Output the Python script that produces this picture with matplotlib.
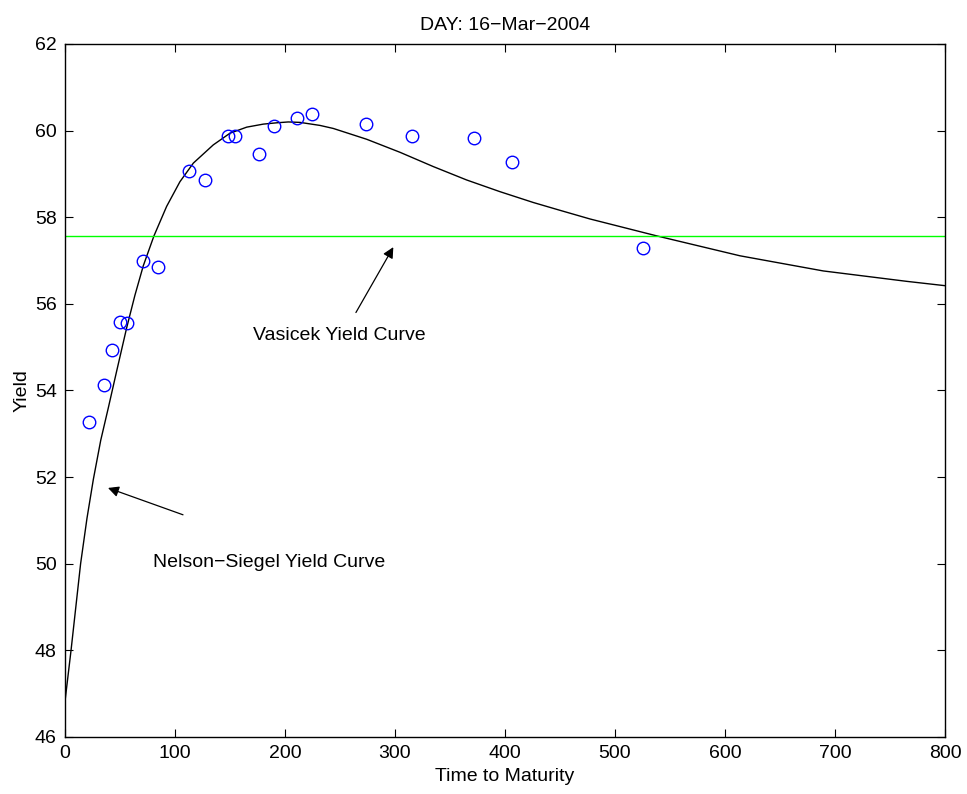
import matplotlib
matplotlib.use("Agg")
import matplotlib.pyplot as plt

plt.rcParams['font.family'] = ['Liberation Sans', 'DejaVu Sans']

# observed yields (maturity in days)
maturity = [21.8, 35.6, 42.5, 50.0, 56.8, 71.0, 84.7, 112.7, 127.0, 148.0,
            155.0, 176.0, 190.0, 210.8, 224.7, 274.0, 315.7, 371.8, 406.6, 525.6]
yields = [53.27, 54.12, 54.93, 55.57, 55.55, 57.00, 56.86, 59.06, 58.87, 59.88,
          59.88, 59.45, 60.10, 60.29, 60.38, 60.16, 59.87, 59.82, 59.27, 57.28]

# fitted Nelson-Siegel curve, sampled along the maturity axis
ns_t = [0, 5.5, 14.2, 20.0, 25.8, 32.5, 39.4, 47.0, 56.1, 63.6, 71.2, 80.9,
        92.4, 104.5, 116.7, 134.8, 150.0, 165.2, 180.3, 192.4, 203.0, 213.6,
        231.8, 243.9, 274.3, 304.5, 334.8, 365.2, 395.5, 425.8, 450.0, 477.3,
        537.9, 613.6, 689.4, 765.2, 800]
ns_y = [46.82, 48.00, 50.00, 51.05, 51.95, 52.85, 53.60, 54.45, 55.45, 56.20,
        56.88, 57.57, 58.25, 58.82, 59.25, 59.67, 59.94, 60.08, 60.15, 60.18,
        60.20, 60.19, 60.12, 60.05, 59.80, 59.50, 59.17, 58.86, 58.59, 58.34,
        58.16, 57.96, 57.57, 57.11, 56.76, 56.52, 56.42]

# flat Vasicek yield
vasicek_level = 57.57

fig = plt.figure(figsize=(9.67, 7.94), dpi=100)
ax = fig.add_axes([0.0672, 0.0718, 0.9100, 0.8728])

ax.plot(ns_t, ns_y, color='black', linewidth=1.0)
ax.axhline(vasicek_level, color=(0, 1, 0), linewidth=1.0)
ax.plot(maturity, yields, linestyle='none', marker='o', markersize=9,
        markerfacecolor='none', markeredgecolor='blue', markeredgewidth=1.0)

ax.set_xlim(0, 800)
ax.set_ylim(46, 62)
ax.set_xticks(range(0, 801, 100))
ax.set_yticks(range(46, 63, 2))
ax.tick_params(direction='in', length=6, top=True, right=True,
               labelsize=14, pad=6)
for s in ax.spines.values():
    s.set_linewidth(1.0)

ax.set_title(u'DAY: 16\u2212Mar\u22122004', fontsize=14, pad=10)
ax.set_xlabel('Time to Maturity', fontsize=14, labelpad=4)
ax.set_ylabel('Yield', fontsize=14, labelpad=3)

arrow = dict(arrowstyle='-|>', color='black', linewidth=0.9,
             mutation_scale=16, shrinkA=0, shrinkB=0)
ax.annotate('', xy=(39.1, 51.75), xytext=(107.3, 51.13), arrowprops=arrow)
ax.text(80, 50.04, u'Nelson\u2212Siegel Yield Curve', fontsize=14, va='center')
ax.annotate('', xy=(298.5, 57.31), xytext=(264.5, 55.8), arrowprops=arrow)
ax.text(171, 55.28, 'Vasicek Yield Curve', fontsize=14, va='center')

fig.savefig('out.png', dpi=100)
